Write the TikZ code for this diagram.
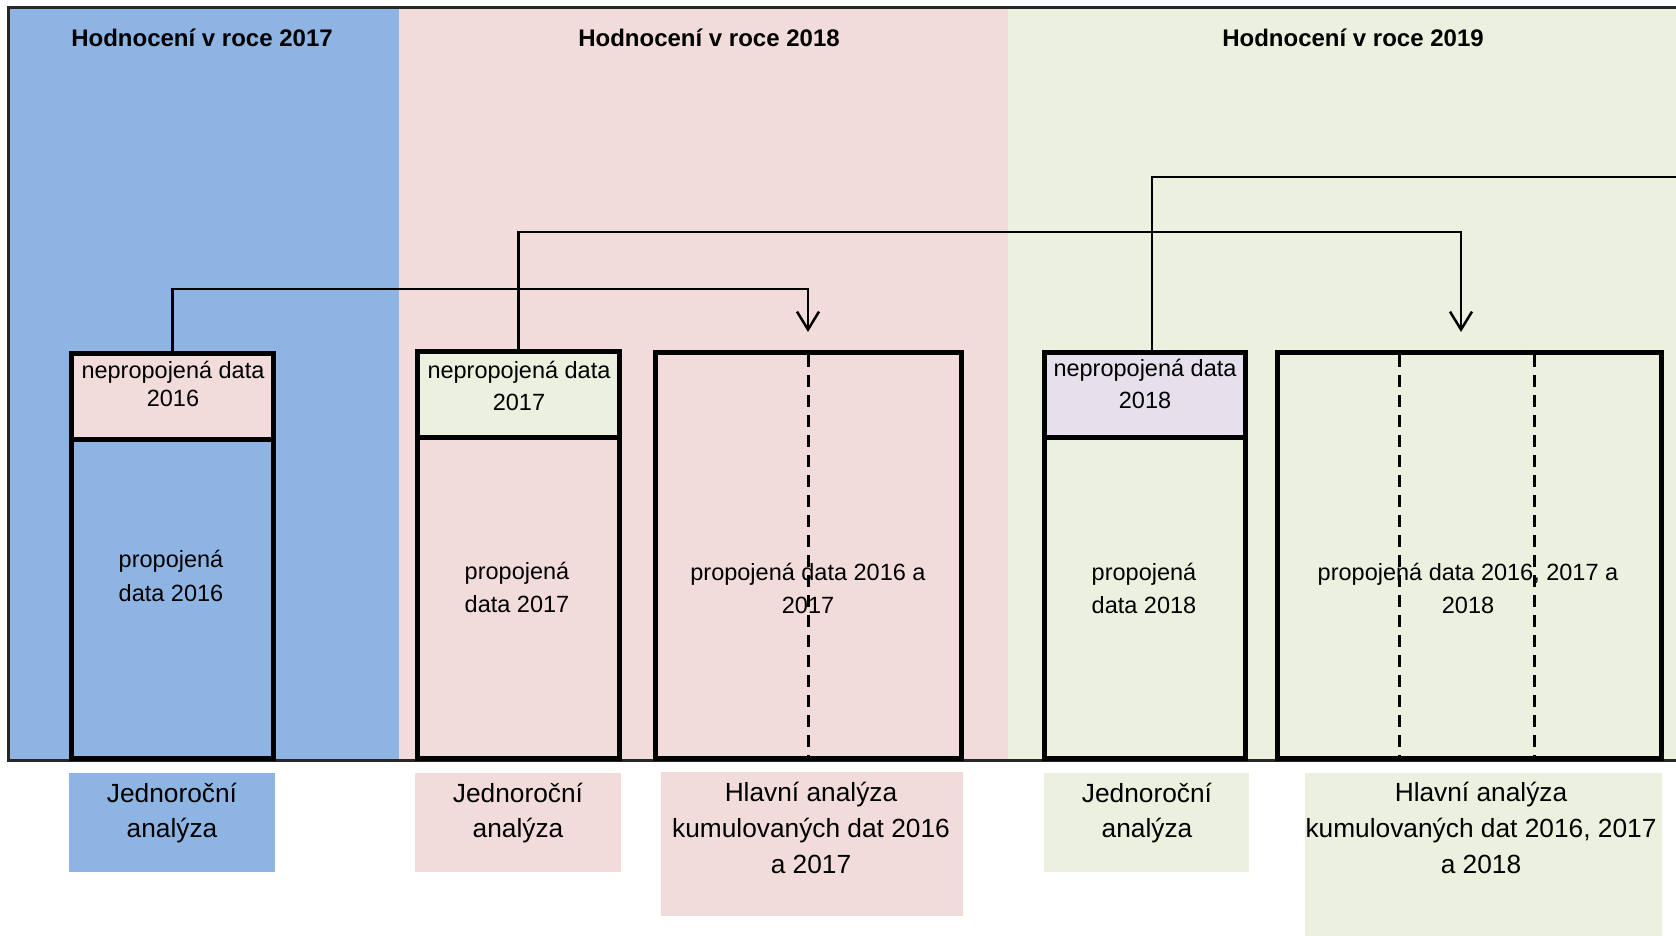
\documentclass[tikz,border=0pt]{standalone}
\usepackage{fontspec}
\setmainfont{Liberation Sans}
\usetikzlibrary{arrows.meta}
\definecolor{cblue}{RGB}{142,180,227}
\definecolor{cpink}{RGB}{242,220,219}
\definecolor{cgreen}{RGB}{235,241,222}
\definecolor{clav}{RGB}{229,224,236}
\begin{document}
\begin{tikzpicture}[x=1pt,y=-1pt,
  region/.style={draw=none, inner sep=0pt, outer sep=0pt, anchor=north west},
  boxnode/.style={draw=black, line width=5pt, inner sep=0pt, outer sep=0pt, anchor=north west},
  lblbox/.style={draw=none, inner sep=0pt, outer sep=0pt, anchor=north west},
  frameline/.style={line width=3pt, draw=black!85},
  conn/.style={line width=2.5pt},
  arr/.style={conn, -{Straight Barb[length=18pt,width=22pt]}},
  dsh/.style={line width=3pt, dash pattern=on 12pt off 8pt},
  ttl/.style={font=\fontsize{24}{29}\selectfont\bfseries, anchor=base, inner sep=0pt},
  btxt/.style={font=\fontsize{23.5}{33}\selectfont, align=center, anchor=base, inner sep=0pt},
  ltxt/.style={font=\fontsize{26.3}{36}\selectfont, align=center, anchor=base, inner sep=0pt}
]
\useasboundingbox (0,0) rectangle (1676,936);
\fill[white] (0,0) rectangle (1676,936);

% year regions
\node[region, fill=cblue, minimum width=391pt, minimum height=752pt] (r17) at (8,8) {};
\node[region, fill=cpink, minimum width=609pt, minimum height=752pt] (r18) at (399,8) {};
\node[region, fill=cgreen, minimum width=672pt, minimum height=752pt] (r19) at (1008,8) {};

% frame
\draw[frameline] (1690,8) -- (8,8) -- (8,760) -- (1690,760);

% titles
\node[ttl] (t17) at (202,47) {Hodnocení v roce 2017};
\node[ttl] (t18) at (709,47) {Hodnocení v roce 2018};
\node[ttl] (t19) at (1353,47) {Hodnocení v roce 2019};

% box A (2016)
\node[boxnode, fill=cpink, minimum width=202pt, minimum height=85.5pt] (hA) at (71.5,353.5) {};
\node[boxnode, fill=cblue, minimum width=202pt, minimum height=319pt] (bA) at (71.5,439) {};
% box B (2017)
\node[boxnode, fill=cgreen, minimum width=202pt, minimum height=86pt] (hB) at (417.5,351.5) {};
\node[boxnode, fill=cpink, minimum width=202pt, minimum height=320.5pt] (bB) at (417.5,437.5) {};
% box C (2016+2017)
\node[boxnode, fill=cpink, minimum width=306pt, minimum height=405.5pt] (bC) at (655.5,352.5) {};
% box D (2018)
\node[boxnode, fill=clav, minimum width=201pt, minimum height=84.5pt] (hD) at (1044.5,352.5) {};
\node[boxnode, fill=cgreen, minimum width=201pt, minimum height=321pt] (bD) at (1044.5,437) {};
% box E (2016+2017+2018)
\node[boxnode, fill=cgreen, minimum width=384pt, minimum height=405.5pt] (bE) at (1277.5,352.5) {};

% dashed dividers
\draw[dsh] (808,355) -- (808,756);
\draw[dsh] (1399,355) -- (1399,756);
\draw[dsh] (1534,355) -- (1534,756);

% box texts
\node[btxt, font=\fontsize{23.5}{28}\selectfont] (thA) at (173,406) {nepropojená data\\2016};
\node[btxt, font=\fontsize{23.5}{32}\selectfont] (thB) at (519,410) {nepropojená data\\2017};
\node[btxt, font=\fontsize{23.5}{32}\selectfont] (thD) at (1145,408) {nepropojená data\\2018};
\node[btxt, font=\fontsize{23.5}{34}\selectfont] (tbA) at (171,601) {propojená\\data 2016};
\node[btxt] (tbB) at (517,612) {propojená\\data 2017};
\node[btxt] (tbC) at (808,613) {propojená data 2016 a\\2017};
\node[btxt] (tbD) at (1144,613) {propojená\\data 2018};
\node[btxt] (tbE) at (1468,613) {propojená data 2016, 2017 a\\2018};

% connectors
\coordinate (tipC) at (808,332);
\coordinate (kA) at (808,289);
\draw[arr] (hA.north) |- (kA) -- (tipC);
\coordinate (tipE) at (1461,332);
\coordinate (kB) at (1461,232);
\draw[arr] (hB.north) |- (kB) -- (tipE);
\coordinate (sD) at (1152,352.5);
\coordinate (outD) at (1690,177);
\draw[conn] (sD) |- (outD);

% bottom labels
\node[lblbox, fill=cblue, minimum width=206pt, minimum height=99pt] (L1) at (69,773) {};
\node[lblbox, fill=cpink, minimum width=206pt, minimum height=99pt] (L2) at (415,773) {};
\node[lblbox, fill=cpink, minimum width=302pt, minimum height=144pt] (L3) at (661,772) {};
\node[lblbox, fill=cgreen, minimum width=205pt, minimum height=99pt] (L4) at (1044,773) {};
\node[lblbox, fill=cgreen, minimum width=357pt, minimum height=163pt] (L5) at (1305,773) {};

\node[ltxt, font=\fontsize{26.3}{35}\selectfont] (tL1) at (172,837) {Jednoroční\\analýza};
\node[ltxt, font=\fontsize{26.3}{35}\selectfont] (tL2) at (518,837) {Jednoroční\\analýza};
\node[ltxt] (tL3) at (811,873) {Hlavní analýza\\kumulovaných dat 2016\\a 2017};
\node[ltxt, font=\fontsize{26.3}{35}\selectfont] (tL4) at (1147,837) {Jednoroční\\analýza};
\node[ltxt] (tL5) at (1481,873) {Hlavní analýza\\kumulovaných dat 2016, 2017\\a 2018};
\end{tikzpicture}
\end{document}
